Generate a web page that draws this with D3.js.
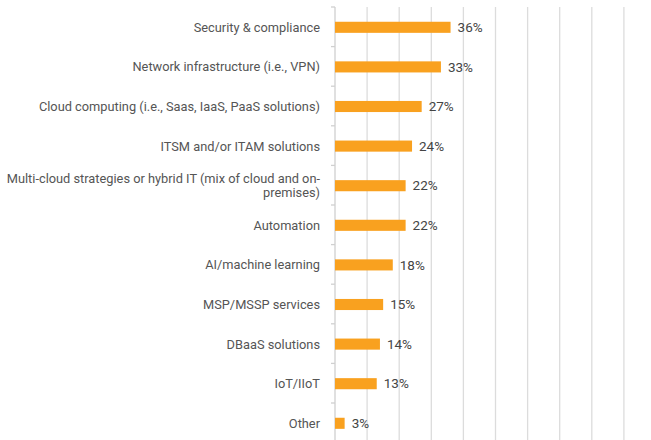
<!DOCTYPE html>
<html><head><meta charset="utf-8">
<script src="https://cdn.jsdelivr.net/npm/d3@7"></script>
<style>body{margin:0;background:#fff}svg{display:block}</style>
</head><body>
<svg id="chart" width="651" height="440"></svg>
<script>
const categories = ["Security & compliance","Network infrastructure (i.e., VPN)","Cloud computing (i.e., Saas, IaaS, PaaS solutions)","ITSM and/or ITAM solutions","Multi-cloud strategies or hybrid IT (mix of cloud and on-premises)","Automation","AI/machine learning","MSP/MSSP services","DBaaS solutions","IoT/IIoT","Other"];
const values = [36,33,27,24,22,22,18,15,14,13,3];
const gridTicks = [10,20,30,40,50,60,70,80,90];

const svg = d3.select("#chart");
const x = d3.scaleLinear().domain([0,100]).range([335,656]);
const y = d3.scaleBand().domain(categories).range([7,7+39.6*11]).paddingInner(0.72).paddingOuter(0.36);
const yb = d3.scaleBand().domain(categories).range([7,7+39.6*11]);

svg.append("g").selectAll("line").data(gridTicks).join("line")
  .attr("x1",d=>x(d)).attr("x2",d=>x(d)).attr("y1",7).attr("y2",440)
  .attr("stroke","#dcdcdc").attr("stroke-width",1.3);

svg.append("line").attr("x1",x(0)).attr("x2",x(0)).attr("y1",7).attr("y2",440)
  .attr("stroke","#d0d0d0").attr("stroke-width",1.3);
svg.append("g").selectAll("line").data(categories).join("line")
  .attr("x1",x(0)-4).attr("x2",x(0)).attr("y1",d=>yb(d)).attr("y2",d=>yb(d))
  .attr("stroke","#d0d0d0").attr("stroke-width",1.3);

svg.append("g").selectAll("rect").data(values).join("rect")
  .attr("x",x(0)).attr("y",(d,i)=>y(categories[i])+0.5)
  .attr("width",d=>x(d)-x(0)).attr("height",y.bandwidth())
  .attr("fill","#f9a11f");

svg.append("g").selectAll("text").data(values).join("text")
  .attr("x",d=>x(d)+7).attr("y",(d,i)=>y(categories[i])+y.bandwidth()/2+0.5)
  .attr("dy","0.35em")
  .attr("font-family","Roboto, sans-serif").attr("font-size",13.5).attr("fill","#444")
  .text(d=>d+"%");

const maxW = 315;
const lab = svg.append("g").attr("font-family","Roboto, sans-serif").attr("font-size",12.8).attr("fill","#555").attr("text-anchor","end");
categories.forEach(c=>{
  const cy = yb(c)+yb.bandwidth()/2+0.5;
  const t = lab.append("text").attr("x",320);
  const tokens = c.match(/[^\s-]+-?\s*/g);
  let lines=[], cur="";
  const probe = t.append("tspan");
  tokens.forEach(tok=>{
    const test = cur+tok;
    probe.text(test.trim());
    if (probe.node().getComputedTextLength()>maxW && cur){ lines.push(cur.trim()); cur=tok; }
    else cur=test;
  });
  lines.push(cur.trim());
  probe.remove();
  const lh = 14.5;
  lines.forEach((ln,i)=>{
    t.append("tspan").attr("x",320).attr("y",cy+(i-(lines.length-1)/2)*lh).attr("dy","0.35em").text(ln);
  });
});
</script>
</body></html>
